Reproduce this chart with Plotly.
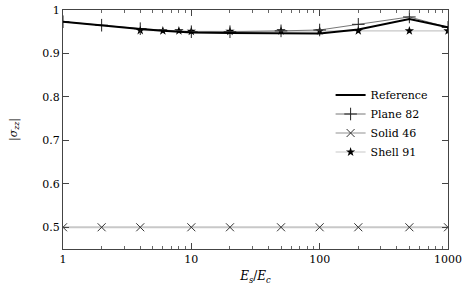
import plotly.graph_objects as go

ratio_ref = [1, 2, 4, 6, 8, 10, 20, 50, 100, 200, 500, 1000]
sigma_ref = [0.973, 0.964, 0.956, 0.952, 0.950, 0.948, 0.947, 0.946, 0.946, 0.955, 0.979, 0.960]

ratio_plane = [1, 2, 4, 10, 20, 50, 100, 200, 500, 1000]
sigma_plane = [0.973, 0.965, 0.957, 0.950, 0.950, 0.952, 0.954, 0.967, 0.984, 0.960]

ratio_solid = [1, 2, 4, 10, 20, 50, 100, 200, 500, 1000]
sigma_solid = [0.5, 0.5, 0.5, 0.5, 0.5, 0.5, 0.5, 0.5, 0.5, 0.5]

ratio_shell = [4, 6, 8, 10, 20, 50, 100, 200, 500, 1000]
sigma_shell = [0.953, 0.952, 0.952, 0.951, 0.951, 0.952, 0.952, 0.952, 0.952, 0.952]

yticks = [0.5, 0.6, 0.7, 0.8, 0.9, 1.0]
ytick_text = ["0.5", "0.6", "0.7", "0.8", "0.9", "1"]

FONT = "DejaVu Serif"

fig = go.Figure()
fig.add_trace(go.Scatter(x=ratio_shell, y=sigma_shell, name="Shell 91", mode="lines+markers",
                         line=dict(color="#c8c8c8", width=1.2),
                         marker=dict(symbol="star", size=7, color="black")))
fig.add_trace(go.Scatter(x=ratio_solid, y=sigma_solid, name="Solid 46", mode="lines+markers",
                         line=dict(color="#c8c8c8", width=1.8),
                         marker=dict(symbol="x-thin", size=8, color="black",
                                     line=dict(color="#333333", width=1))))
fig.add_trace(go.Scatter(x=ratio_plane, y=sigma_plane, name="Plane 82", mode="lines+markers",
                         line=dict(color="#777777", width=1),
                         marker=dict(symbol="cross-thin", size=9, color="black",
                                     line=dict(color="#222222", width=1))))
fig.add_trace(go.Scatter(x=ratio_ref, y=sigma_ref, name="Reference", mode="lines",
                         line=dict(color="black", width=2)))

fig.update_layout(
    width=466, height=286,
    margin=dict(l=63, r=13, t=4, b=37),
    paper_bgcolor="white", plot_bgcolor="white",
    font=dict(family=FONT, size=11, color="black"),
    showlegend=True,
    legend=dict(x=0.96, y=0.705, xanchor="right", yanchor="top",
                traceorder="reversed", bgcolor="rgba(0,0,0,0)",
                font=dict(family=FONT, size=11), itemwidth=30,
                tracegroupgap=0),
)
fig.update_xaxes(
    type="log", range=[0, 3], dtick=1,
    showline=True, linecolor="#444", linewidth=1, mirror="ticks",
    ticks="inside", ticklen=6, tickcolor="#444",
    minor=dict(ticks="inside", ticklen=3, tickcolor="#666", showgrid=False),
    showgrid=False, zeroline=False, ticklabeloverflow="allow",
    title=dict(text="<i>E<sub>s</sub></i>/<i>E<sub>c</sub></i>", standoff=6,
               font=dict(family=FONT, size=12)),
)
fig.update_yaxes(
    range=[0.45, 1.0], tickvals=yticks, ticktext=ytick_text,
    showline=True, linecolor="#444", linewidth=1, mirror="ticks",
    ticks="inside", ticklen=6, tickcolor="#444",
    showgrid=False, zeroline=False, ticklabeloverflow="allow",
    title=dict(text="|<i>σ<sub>zz</sub></i>|", standoff=22,
               font=dict(family=FONT, size=11)),
)

fig.write_html("out.html", config={"displayModeBar": False},
               post_script="document.body.style.margin='0';")
